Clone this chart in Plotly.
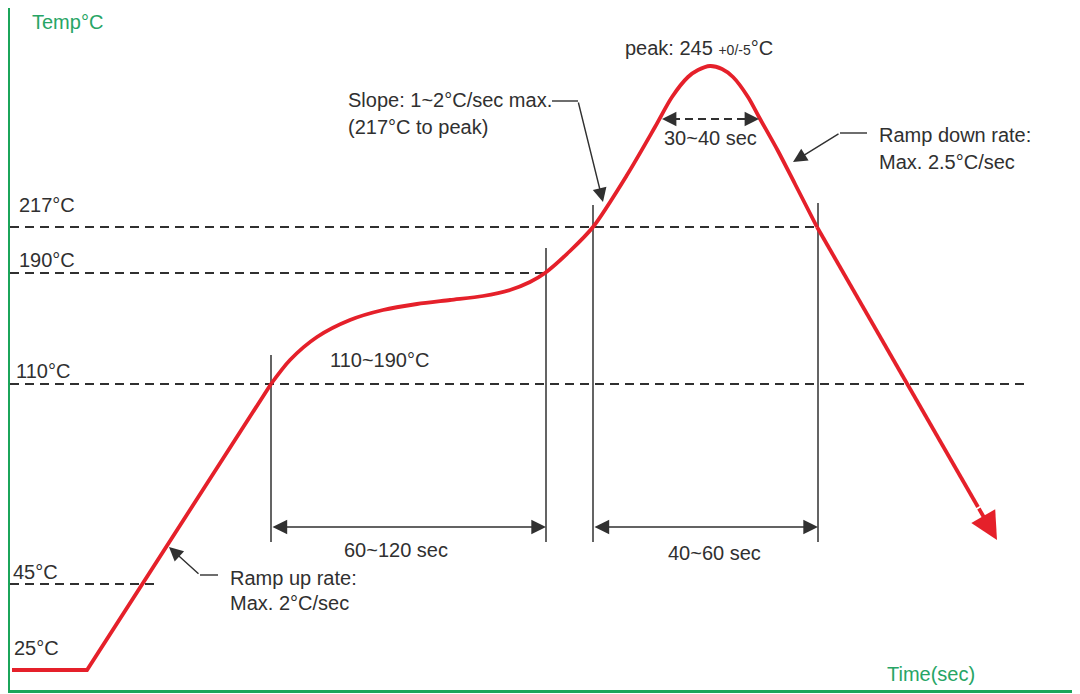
import plotly.graph_objects as go

# ---- schematic reflow profile (time position, level position in chart units) ----
ramp_t = [12, 87, 271]
ramp_h = [24, 24, 310]

soak_peak_t = [271, 290, 317, 350, 383, 417, 450, 483, 510, 530, 545, 570, 593,
               627, 655, 672, 688, 698, 710, 722, 733, 748, 759, 778, 795, 817]
soak_peak_h = [310, 334, 357, 374, 384, 390, 394, 398, 404, 412, 421, 443, 467,
               519, 567, 597, 617, 624, 628, 625, 617, 597, 577, 543, 510, 467]

cool_t = [817, 978]
cool_h = [467, 187]
cool_tip = (997, 154)

# temperature reference levels
level_labels = ["217°C", "190°C", "110°C", "45°C", "25°C"]
level_h = [467, 421, 310, 110, 24]
level_line_end = [818, 546, 1030, 155, None]

# phase boundaries (time positions)
boundary_t = [271, 546, 593, 818]
boundary_top = [339, 446, 489, 491]

RED = "#e5202a"
GREEN = "#1ba55a"
GREEN_TXT = "#27a565"
DARK = "#303030"
FONT = "Liberation Sans Narrow, Arial Narrow, Liberation Sans, Arial, sans-serif"
FS = 20

fig = go.Figure()
fig.add_trace(go.Scatter(x=ramp_t, y=ramp_h, mode="lines",
                         line=dict(color=RED, width=3.8), hoverinfo="skip"))
fig.add_trace(go.Scatter(x=soak_peak_t, y=soak_peak_h, mode="lines",
                         line=dict(color=RED, width=3.8, shape="spline", smoothing=0.8),
                         hoverinfo="skip"))
fig.add_trace(go.Scatter(x=cool_t, y=cool_h, mode="lines",
                         line=dict(color=RED, width=3.8), hoverinfo="skip"))

shapes = []
# dashed level lines
for h, end in zip(level_h, level_line_end):
    if end is None:
        continue
    shapes.append(dict(type="line", x0=10, x1=end, y0=h, y1=h, xref="x", yref="y",
                       line=dict(color=DARK, width=2, dash="9px,6px"), layer="below"))
# vertical boundaries
for t, top in zip(boundary_t, boundary_top):
    shapes.append(dict(type="line", x0=t, x1=t, y0=152, y1=top, xref="x", yref="y",
                       line=dict(color=DARK, width=1.5), layer="below"))
# 30~40 sec dashed span
shapes.append(dict(type="line", x0=672, x1=749, y0=575, y1=575,
                   line=dict(color=DARK, width=2, dash="8px,5px")))
# leader horizontal parts
shapes.append(dict(type="line", x0=200, x1=218, y0=119, y1=119, line=dict(color=DARK, width=1.4)))
shapes.append(dict(type="line", x0=552, x1=578, y0=593, y1=593, line=dict(color=DARK, width=1.4)))
shapes.append(dict(type="line", x0=840, x1=867, y0=561, y1=561, line=dict(color=DARK, width=1.4)))

ann = []
def text(x, y, s, anchor="left", color=DARK, size=FS):
    ann.append(dict(x=x, y=y, xref="x", yref="y", text=s, showarrow=False,
                    xanchor=anchor, yanchor="middle",
                    font=dict(family=FONT, size=size, color=color)))

def arrow(x, y, ax, ay, color=DARK, width=1.4, size=2.0, head=2, side="end"):
    ann.append(dict(x=x, y=y, ax=ax, ay=ay, xref="x", yref="y", axref="x", ayref="y",
                    text="", showarrow=True, arrowhead=head, arrowsize=size,
                    arrowwidth=width, arrowcolor=color, arrowside=side,
                    startarrowhead=head, startarrowsize=size, standoff=0, startstandoff=0))

# axis titles
text(30, 672, "Temp°C", color=GREEN_TXT)
text(885, 20, "Time(sec)", color=GREEN_TXT)

# level labels
label_x = [17, 17, 14, 11, 12]
label_h = [489, 434, 323, 122, 46]
for lx, lh, s in zip(label_x, label_h, level_labels):
    text(lx, lh, s)

text(328, 334, "110~190°C")
text(346, 594, "Slope: 1~2°C/sec max.")
text(346, 567, "(217°C to peak)")
text(228, 116, "Ramp up rate:")
text(228, 91, "Max. 2°C/sec")
text(877, 559, "Ramp down rate:")
text(877, 532, "Max. 2.5°C/sec")
text(623, 646, "peak: 245 <span style='font-size:14px'>+0/-5</span>°C")
text(710, 556, "30~40 sec", anchor="center")
text(396, 144, "60~120 sec", anchor="center")
text(714, 141, "40~60 sec", anchor="center")

# leader arrows
arrow(169, 147, 200, 119)
arrow(603, 492, 578, 593)
arrow(793, 532, 840, 561)
# dimension arrows
arrow(546, 167, 271, 167, side="end+start", size=2.1)
arrow(818, 167, 593, 167, side="end+start", size=2.1)
# 30~40 sec heads
arrow(662, 575, 674, 575, width=1.8, size=1.6)
arrow(759, 575, 747, 575, width=1.8, size=1.6)
# cooling arrow head
arrow(cool_tip[0], cool_tip[1], cool_t[-1], cool_h[-1], color=RED, width=3.8, size=1.45)

# page body has an 8px margin: size the figure so the plot lands where the reference is
fig.update_layout(
    width=1072, height=686,
    margin=dict(l=2, r=0, t=0, b=4),
    paper_bgcolor="white", plot_bgcolor="white",
    showlegend=False,
    shapes=shapes, annotations=ann,
    xaxis=dict(range=[10, 1080], showgrid=False, zeroline=False, showticklabels=False,
               ticks="", showline=True, linecolor=GREEN, linewidth=3, fixedrange=True),
    yaxis=dict(range=[4, 686], showgrid=False, zeroline=False, showticklabels=False,
               ticks="", showline=True, linecolor=GREEN, linewidth=3, fixedrange=True),
)

fig.write_html("out.html", config={"displayModeBar": False})
